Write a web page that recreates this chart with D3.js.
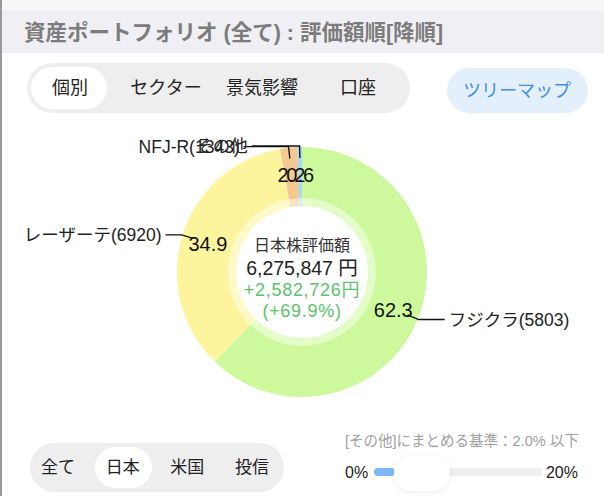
<!DOCTYPE html>
<html><head><meta charset="utf-8">
<script src="https://cdn.jsdelivr.net/npm/d3@7"></script>
<style>
html,body{margin:0;padding:0;background:#fff;}
svg{display:block;font-family:"Liberation Sans","Noto Sans CJK JP",sans-serif;}
</style></head>
<body>
<svg id="c" width="604" height="496"></svg>
<script>
// ---- data ----
const names = ["フジクラ(5803)", "レーザーテ(6920)", "NFJ-R(1343)", "その他"];
const values = [62.3, 34.9, 2.2, 0.6];
const colors = ["#cdf99c", "#fdf49d", "#f4c891", "#a6daf4"];
const title = "資産ポートフォリオ (全て) : 評価額順[降順]";
const topTabs = ["個別", "セクター", "景気影響", "口座"];
const bottomTabs = ["全て", "日本", "米国", "投信"];
const centerLines = ["日本株評価額", "6,275,847 円", "+2,582,726円", "(+69.9%)"];
const thresholdText = "[その他]にまとめる基準：2.0% 以下";
const sliderTicks = ["0%", "20%"];
const sliderValue = 2.0;

const svg = d3.select("#c");

// background / title bar
svg.append("rect").attr("x",0).attr("y",0).attr("width",604).attr("height",10).attr("fill","#f7f7f7");
svg.append("rect").attr("x",0).attr("y",10).attr("width",604).attr("height",43).attr("fill","#f0f0f4");
svg.append("rect").attr("x",0).attr("y",0).attr("width",2).attr("height",496).attr("fill","#9a9a9a");
svg.append("text").attr("x",24).attr("y",40).attr("font-size",21.5).attr("fill","#7c7c7c")
  .attr("font-weight","bold").text(title);

// top segmented control
svg.append("rect").attr("x",27).attr("y",63).attr("width",383).attr("height",50).attr("rx",25).attr("fill","#eeeeef");
svg.append("rect").attr("x",31).attr("y",67).attr("width",76).attr("height",42).attr("rx",21).attr("fill","#fff");
const topX = d3.scalePoint().domain(topTabs).range([70, 358]);
svg.selectAll(".tt").data(topTabs).enter().append("text")
  .attr("x", d => topX(d)).attr("y", 88).attr("dy","0.35em").attr("text-anchor","middle")
  .attr("font-size",18).attr("fill","#222").text(d => d);

// treemap button
svg.append("rect").attr("x",447).attr("y",68).attr("width",141).attr("height",45).attr("rx",22.5).attr("fill","#e4effc");
svg.append("text").attr("x",517).attr("y",91).attr("dy","0.35em").attr("text-anchor","middle")
  .attr("font-size",18).attr("fill","#3f8fe6").text("ツリーマップ");

// donut
const cx = 302, cy = 272, R = 125, r0 = 66;
const g = svg.append("g").attr("transform", `translate(${cx},${cy})`);
const pie = d3.pie().sort(null).value(d => d.v);
const data = pie(values.map((v,i) => ({v, name: names[i], color: colors[i]})));
const arc = d3.arc().innerRadius(60).outerRadius(R);
const cArc = d3.arc().innerRadius(72).outerRadius(R);
g.selectAll("path.s").data(data).enter().append("path")
  .attr("d", arc).attr("fill", d => d.data.color);
g.append("circle").attr("r", 74).attr("fill","#fff").attr("fill-opacity",0.45);
g.append("circle").attr("r", r0).attr("fill","#fff");

// value labels
g.selectAll("text.v").data(data).enter().append("text")
  .attr("transform", d => `translate(${cArc.centroid(d)})`)
  .attr("text-anchor","middle").attr("dy","0.4em")
  .attr("font-size",20).attr("fill","#111").text(d => d.data.v.toFixed(1));

// leader lines + names
const pt = (a, rr) => [Math.sin(a)*rr, -Math.cos(a)*rr];
data.forEach(d => {
  const a = (d.startAngle + d.endAngle)/2;
  const s = Math.sin(a);
  const side = s >= 0 ? 1 : -1;
  const p1 = pt(a, 114), p2 = pt(a, 126);
  const len = (side > 0 ? 23.5 : 14.5) + 34*(1 - Math.abs(s));
  const p3 = [p2[0] + side*len, p2[1]];
  g.append("path").attr("d", d3.line().curve(d3.curveLinear)([p1,p2,p3]))
    .attr("fill","none").attr("stroke","#111").attr("stroke-width",1.3);
  g.append("text").attr("x", p3[0] + side*4).attr("y", p3[1]).attr("dy","0.35em")
    .attr("text-anchor", side > 0 ? "start" : "end")
    .attr("font-size",17.5).attr("fill","#222").text(d.data.name);
});

// center text
const cy0 = [-27, -4, 18, 39];
const cSizes = [16, 19.5, 18, 18];
const cSpacing = [0, 0, 0.7, 0.7];
const cCols = ["#333","#222","#5cc26c","#5cc26c"];
centerLines.forEach((t,i) => {
  g.append("text").attr("x",0).attr("y",cy0[i]).attr("dy","0.35em").attr("text-anchor","middle")
    .attr("font-size",cSizes[i]).attr("letter-spacing",cSpacing[i]).attr("fill",cCols[i]).text(t);
});

// bottom segmented control
svg.append("rect").attr("x",30).attr("y",443).attr("width",254).attr("height",49).attr("rx",24.5).attr("fill","#eeeeef");
svg.append("rect").attr("x",95).attr("y",447).attr("width",57).attr("height",41).attr("rx",20.5).attr("fill","#fff");
const botX = d3.scalePoint().domain(bottomTabs).range([58, 252]);
svg.selectAll(".bt").data(bottomTabs).enter().append("text")
  .attr("x", d => botX(d)).attr("y", 467).attr("dy","0.35em").attr("text-anchor","middle")
  .attr("font-size",17).attr("fill","#222").text(d => d);

// slider
svg.append("text").attr("x",345).attr("y",446).attr("font-size",14.5).attr("fill","#a0a0a0").text(thresholdText);
const sx = d3.scaleLinear().domain([0,20]).range([374, 542]);
svg.append("rect").attr("x",sx(0)).attr("y",468).attr("width",sx(20)-sx(0)).attr("height",8).attr("rx",4).attr("fill","#efefef");
svg.append("rect").attr("x",sx(0)).attr("y",468).attr("width",sx(sliderValue)-sx(0)+4).attr("height",8).attr("rx",4).attr("fill","#7db7f5");
const defs = svg.append("defs");
const f = defs.append("filter").attr("id","sh").attr("x","-50%").attr("y","-50%").attr("width","200%").attr("height","200%");
f.append("feDropShadow").attr("dx",0).attr("dy",1).attr("stdDeviation",3).attr("flood-color","#000").attr("flood-opacity",0.08);
svg.append("rect").attr("x",sx(sliderValue)+3).attr("y",455).attr("width",56).attr("height",36).attr("rx",18)
  .attr("fill","#fff").attr("filter","url(#sh)");
svg.append("text").attr("x",345).attr("y",472).attr("dy","0.35em").attr("font-size",16).attr("fill","#222").text(sliderTicks[0]);
svg.append("text").attr("x",578).attr("y",472).attr("dy","0.35em").attr("text-anchor","end").attr("font-size",16).attr("fill","#222").text(sliderTicks[1]);
</script>
</body></html>
